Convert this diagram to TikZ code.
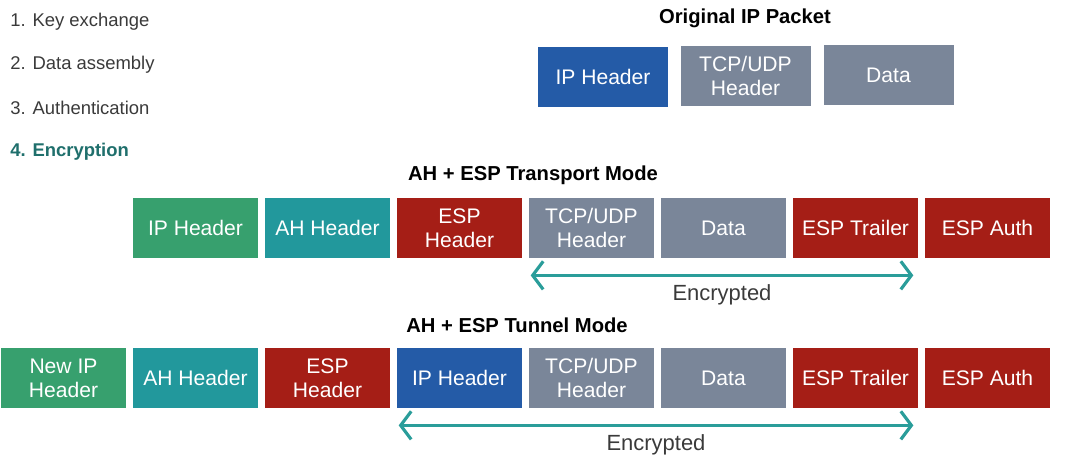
\documentclass[tikz,border=0pt]{standalone}
\usepackage{fontspec}
\setmainfont{Liberation Sans}
\usetikzlibrary{arrows.meta}
\usetikzlibrary{calc}
\definecolor{ipblue}{HTML}{245BA7}
\definecolor{paygray}{HTML}{7A8699}
\definecolor{ipgreen}{HTML}{37A06E}
\definecolor{ahteal}{HTML}{22989C}
\definecolor{espred}{HTML}{A51E16}
\definecolor{listgray}{HTML}{3A3A3A}
\definecolor{listteal}{HTML}{1F6F6C}
\definecolor{arrowteal}{HTML}{2A9D9A}
\tikzstyle{field}=[text=white, minimum width=2.5cm, minimum height=1.2cm, align=center, inner sep=0pt, font=\fontsize{12}{13.5}\selectfont]
\tikzstyle{wide field}=[field, minimum width=2.6cm]
\tikzstyle{mode title}=[font=\bfseries\fontsize{11.5}{13}\selectfont]
\tikzstyle{list item}=[anchor=west, inner sep=0pt, text=listgray, font=\fontsize{10.5}{12}\selectfont]
\tikzstyle{encrypted}=[draw=arrowteal, line width=1.8pt, {Straight Barb[length=6pt,width=16pt]}-{Straight Barb[length=6pt,width=16pt]}]
\tikzstyle{enc label}=[text=listgray, font=\fontsize{12.5}{14}\selectfont]

\begin{document}
\begin{tikzpicture}[x=0.02cm, y=-0.02cm]
  \useasboundingbox (0,0) rectangle (1067,468);
  % steps
  \node[list item] (s1) at (10,22) {1. Key exchange};
  \node[list item] (s2) at (10,65) {2. Data assembly};
  \node[list item] (s3) at (10,108) {3. Authentication};
  \node[list item, text=listteal, font=\bfseries\fontsize{10.5}{12}\selectfont] (s4) at (10,152) {4. Encryption};

  % original packet
  \node[mode title] (orig) at (745,18) {Original IP Packet};
  \node[wide field, fill=ipblue] (or1) at (603,77) {IP Header};
  \node[wide field, fill=paygray] (or2) at (745.5,76) {TCP/UDP\\Header};
  \node[wide field, fill=paygray] (or3) at (888.5,75) {Data};

  % transport mode
  \node[mode title] (trans) at (533,175) {AH + ESP Transport Mode};
  \node[field, fill=ipgreen] (tr1) at (195.5,228) {IP Header};
  \node[field, fill=ahteal] (tr2) at (327.5,228) {AH Header};
  \node[field, fill=espred] (tr3) at (459.5,228) {ESP\\Header};
  \node[field, fill=paygray] (tr4) at (591.5,228) {TCP/UDP\\Header};
  \node[field, fill=paygray] (tr5) at (723.5,228) {Data};
  \node[field, fill=espred] (tr6) at (855.5,228) {ESP Trailer};
  \node[field, fill=espred] (tr7) at (987.5,228) {ESP Auth};
  \coordinate (trL) at ($(tr4.south west)+(2,17)$);
  \coordinate (trR) at ($(tr6.south east)+(-5,17)$);
  \draw[encrypted] (trL) -- node[enc label, below=1pt] {Encrypted} (trR);

  % tunnel mode
  \node[mode title] (tunn) at (517,325) {AH + ESP Tunnel Mode};
  \node[field, fill=ipgreen] (tu1) at (63.5,378) {New IP\\Header};
  \node[field, fill=ahteal] (tu2) at (195.5,378) {AH Header};
  \node[field, fill=espred] (tu3) at (327.5,378) {ESP\\Header};
  \node[field, fill=ipblue] (tu4) at (459.5,378) {IP Header};
  \node[field, fill=paygray] (tu5) at (591.5,378) {TCP/UDP\\Header};
  \node[field, fill=paygray] (tu6) at (723.5,378) {Data};
  \node[field, fill=espred] (tu7) at (855.5,378) {ESP Trailer};
  \node[field, fill=espred] (tu8) at (987.5,378) {ESP Auth};
  \coordinate (tuL) at ($(tu4.south west)+(2,17)$);
  \coordinate (tuR) at ($(tu7.south east)+(-5,17)$);
  \draw[encrypted] (tuL) -- node[enc label, below=1pt] {Encrypted} (tuR);
\end{tikzpicture}
\end{document}
